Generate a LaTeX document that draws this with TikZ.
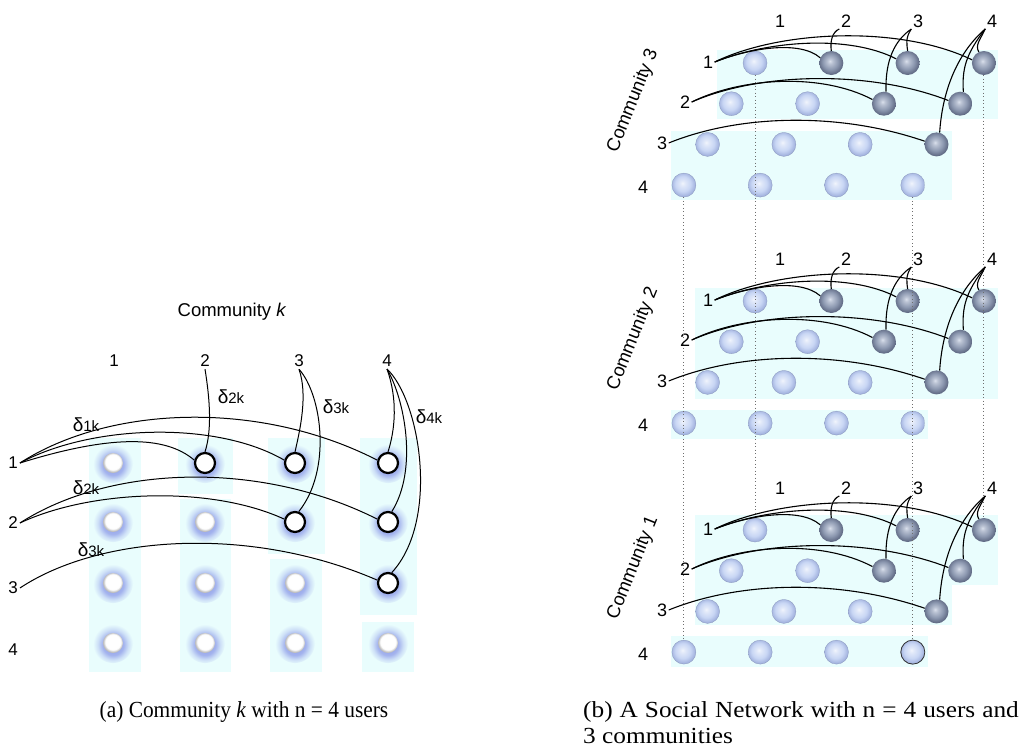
\documentclass[tikz,border=0pt]{standalone}
\usepackage{fontspec}
\setmainfont{Liberation Serif}
\newfontfamily\hv{Liberation Sans}

\definecolor{bgcyan}{RGB}{233,253,253}
\definecolor{glowc}{RGB}{140,154,232}
\definecolor{sphL}{RGB}{200,214,244}
\definecolor{sphLrim}{RGB}{162,178,222}
\definecolor{sphD}{RGB}{140,152,176}
\definecolor{sphDrim}{RGB}{98,108,134}
\definecolor{sphDhi}{RGB}{218,224,236}
\definecolor{dotc}{RGB}{110,110,110}

% soft blue halo behind the plain user nodes
\pgfdeclareradialshading{glow}{\pgfqpoint{0bp}{-3bp}}{color(0bp)=(glowc); color(13bp)=(glowc!75!bgcyan); color(19bp)=(glowc!30!bgcyan); color(25bp)=(bgcyan); color(50bp)=(bgcyan)}
% white disc with a grey lower rim
\pgfdeclareradialshading{wball}{\pgfqpoint{0bp}{4bp}}{color(0bp)=(white); color(19bp)=(white); color(25bp)=(gray!55); color(50bp)=(gray!55)}
% light and dark spheres
\pgfdeclareradialshading{sphlight}{\pgfqpoint{-3bp}{4bp}}{color(0bp)=(white!75!sphL); color(5bp)=(white!45!sphL); color(16bp)=(sphL); color(25bp)=(sphLrim); color(50bp)=(sphLrim)}
\pgfdeclareradialshading{sphdark}{\pgfqpoint{-3bp}{4bp}}{color(0bp)=(sphDhi); color(5bp)=(sphDhi!60!sphD); color(16bp)=(sphD); color(25bp)=(sphDrim); color(50bp)=(sphDrim)}

\newcommand{\capfont}{\fontsize{23}{27}\selectfont}

\tikzset{
  lab/.style={font=\hv\fontsize{17}{20}\selectfont, inner sep=2pt},
  rlab/.style={font=\hv\fontsize{18}{21}\selectfont, inner sep=1.5pt},
  dlab/.style={font=\hv\fontsize{19}{22}\selectfont, inner sep=0pt},
  wnode/.style={circle, minimum size=20pt, inner sep=0pt, shading=wball},
  wsel/.style={circle, minimum size=20pt, inner sep=0pt, fill=white, draw=black, line width=2.2pt},
  nd/.code 2 args={\ifnum#1>#2\relax\pgfkeysalso{wsel}\else\pgfkeysalso{wnode}\fi},
  lsph/.style={circle, minimum size=24pt, inner sep=0pt, shading=sphlight, draw=sphLrim!85!black, line width=0.3pt},
  dsph/.style={circle, minimum size=24pt, inner sep=0pt, shading=sphdark},
  sph/.code 2 args={\ifnum#1>#2\relax\pgfkeysalso{dsph}\else\pgfkeysalso{lsph}\fi},
  link/.style={black, line width=1pt},
  link2/.style={black, line width=1.1pt},
  dotline/.style={dotc, line width=1pt, dash pattern=on 1pt off 2.5pt},
  cbox/.style={fill=bgcyan},
  captext/.style={font=\capfont, inner sep=0pt},
}

\begin{document}
\begin{tikzpicture}[x=1pt, y=-1pt]
\useasboundingbox (0,0) rectangle (1027,750);

% ---------------- (a) one community ----------------
\fill[cbox] (89,438) rectangle (141,672);
\fill[cbox] (178,438) rectangle (233,494);
\fill[cbox] (180,499) rectangle (231,672);
\fill[cbox] (268,438) rectangle (325,554);
\fill[cbox] (270,559) rectangle (322,672);
\fill[cbox] (360,438) rectangle (417,615);
\fill[cbox] (362,622) rectangle (414,672);

\node[lab, font=\hv\fontsize{18.5}{22}\selectfont] (title) at (232,312) {Community \textit{k}};

\foreach \c/\x in {1/114,2/205,3/299,4/387}
  \node[lab] (ac\c) at (\x,361) {\c};
\foreach \r/\y in {1/463,2/523,3/588,4/650}
  \node[lab] (ar\r) at (13,\y) {\r};

\foreach \r/\y in {1/463,2/522,3/583,4/643}
  \foreach \c/\x in {1/113,2/205,3/295,4/388} {
    \shade[shading=glow] (\x,\y) circle[radius=20pt];
    \node[nd={\c}{\r}] (a\r\c) at (\x,\y) {};
  }

\draw[link] (ar1.east) .. controls (110,435) and (165,435) .. (a12.165);
\draw[link] (ar1.east) .. controls (90,425) and (215,420) .. (a13.165);
\draw[link] (ar1.east) .. controls (110,405) and (260,400) .. (a14.165);
\draw[link] (ar2.east) .. controls (90,490) and (210,485) .. (a23.165);
\draw[link] (ar2.east) .. controls (110,465) and (260,460) .. (a24.165);
\draw[link] (ar3.east) .. controls (100,535) and (250,525) .. (a34.165);

\draw[link] (ac2.south) .. controls (210,400) and (212,430) .. (a12.north);
\draw[link] (ac3.south) .. controls (308,395) and (300,430) .. (a13.north);
\draw[link] (ac3.south) .. controls (322,395) and (332,470) .. (a23.70);
\draw[link] (ac4.south) .. controls (398,400) and (395,430) .. (a14.north);
\draw[link] (ac4.south) .. controls (405,400) and (418,470) .. (a24.70);
\draw[link] (ac4.south) .. controls (420,400) and (440,520) .. (a34.70);

\node[dlab] (d1) at (86,425) {δ{\fontsize{15}{17}\selectfont 1k}};
\node[dlab] (d2) at (86,488) {δ{\fontsize{15}{17}\selectfont 2k}};
\node[dlab] (d3) at (91,550) {δ{\fontsize{15}{17}\selectfont 3k}};
\node[dlab] (e2) at (231,397) {δ{\fontsize{15}{17}\selectfont 2k}};
\node[dlab] (e3) at (336,407) {δ{\fontsize{15}{17}\selectfont 3k}};
\node[dlab] (e4) at (429,417) {δ{\fontsize{15}{17}\selectfont 4k}};

% ---------------- (b) three stacked communities ----------------
% community 3
\fill[cbox] (717,50) rectangle (998,119);
\fill[cbox] (671,131) rectangle (952,200);
% community 2
\fill[cbox] (695,288) rectangle (998,399);
\fill[cbox] (671,410) rectangle (928,439);
% community 1
\fill[cbox] (695,515) rectangle (998,585);
\fill[cbox] (695,585) rectangle (952,625);
\fill[cbox] (671,636) rectangle (928,667);

\foreach \k/\dy in {3/0,2/238,1/467} {
  \begin{scope}[yshift=-\dy pt]
    \node[rlab, font=\hv\fontsize{18.5}{22}\selectfont, rotate=68] (lbl\k) at (633,101) {Community \k};
    \foreach \c/\x in {1/780,2/846,3/918,4/992}
      \node[rlab] (c\k-t\c) at (\x,21) {\c};
    \foreach \r/\x/\y in {1/708/62,2/685/102,3/662/143,4/643/187}
      \node[rlab] (c\k-r\r) at (\x,\y) {\r};
    \foreach \r in {1,...,4}
      \foreach \c in {1,...,4} {
        \pgfmathsetmacro\xx{755-23.7*(\r-1)+76.3*(\c-1)}
        \pgfmathsetmacro\yy{63+40.7*(\r-1)}
        \node[sph={\c}{\r}] (c\k-\r\c) at (\xx,\yy) {};
      }
  \end{scope}
}

% same users across the communities
\draw[dotline] (c3-11) -- (c1-11);
\draw[dotline] (c3-14) -- (c1-14);
\draw[dotline] (c3-41) -- (c1-41);
\draw[dotline] (c3-44) -- (c1-44);
\draw[black!80, line width=0.8pt] (c1-44.center) circle[radius=12pt];

\foreach \k/\dy in {3/0,2/238,1/467} {
  \begin{scope}[yshift=-\dy pt]
    \draw[link2] (c\k-r1.east) .. controls (750,48) and (800,40) .. (c\k-12.155);
    \draw[link2] (c\k-r1.east) .. controls (770,40) and (850,35) .. (c\k-13.160);
    \draw[link2] (c\k-r1.east) .. controls (780,30) and (900,25) .. (c\k-14.165);
    \draw[link2] (c\k-r2.east) .. controls (740,78) and (820,72) .. (c\k-23.160);
    \draw[link2] (c\k-r2.east) .. controls (760,72) and (870,70) .. (c\k-24.165);
    \draw[link2] (c\k-r3.east) .. controls (740,114) and (840,112) .. (c\k-34.165);
    \draw[link2] (c\k-t2.south west) .. controls (832,32) and (830,42) .. (c\k-12.north);
    \draw[link2] (c\k-t3.south west) .. controls (905,38) and (907,45) .. (c\k-13.north);
    \draw[link2] (c\k-t3.south west) .. controls (895,40) and (885,60) .. (c\k-23.80);
    \draw[link2] (c\k-t4.south west) .. controls (980,40) and (975,45) .. (c\k-14.115);
    \draw[link2] (c\k-t4.south west) .. controls (965,55) and (962,70) .. (c\k-24.75);
    \draw[link2] (c\k-t4.south west) .. controls (955,55) and (942,95) .. (c\k-34.75);
  \end{scope}
}

% ---------------- captions ----------------
\node[captext, anchor=base] (capa) at (244,717) {\scalebox{0.93}[1]{(a) Community \textit{k} with n = 4 users}};
\node[captext, anchor=base west] (capb) at (583,717) {\scalebox{1.1}[1]{\makebox[396pt][s]{(b) A Social Network with n = 4 users and}}};
\node[captext, anchor=base west] (capc) at (583,743) {\scalebox{1.1}[1]{3 communities}};
\end{tikzpicture}
\end{document}
